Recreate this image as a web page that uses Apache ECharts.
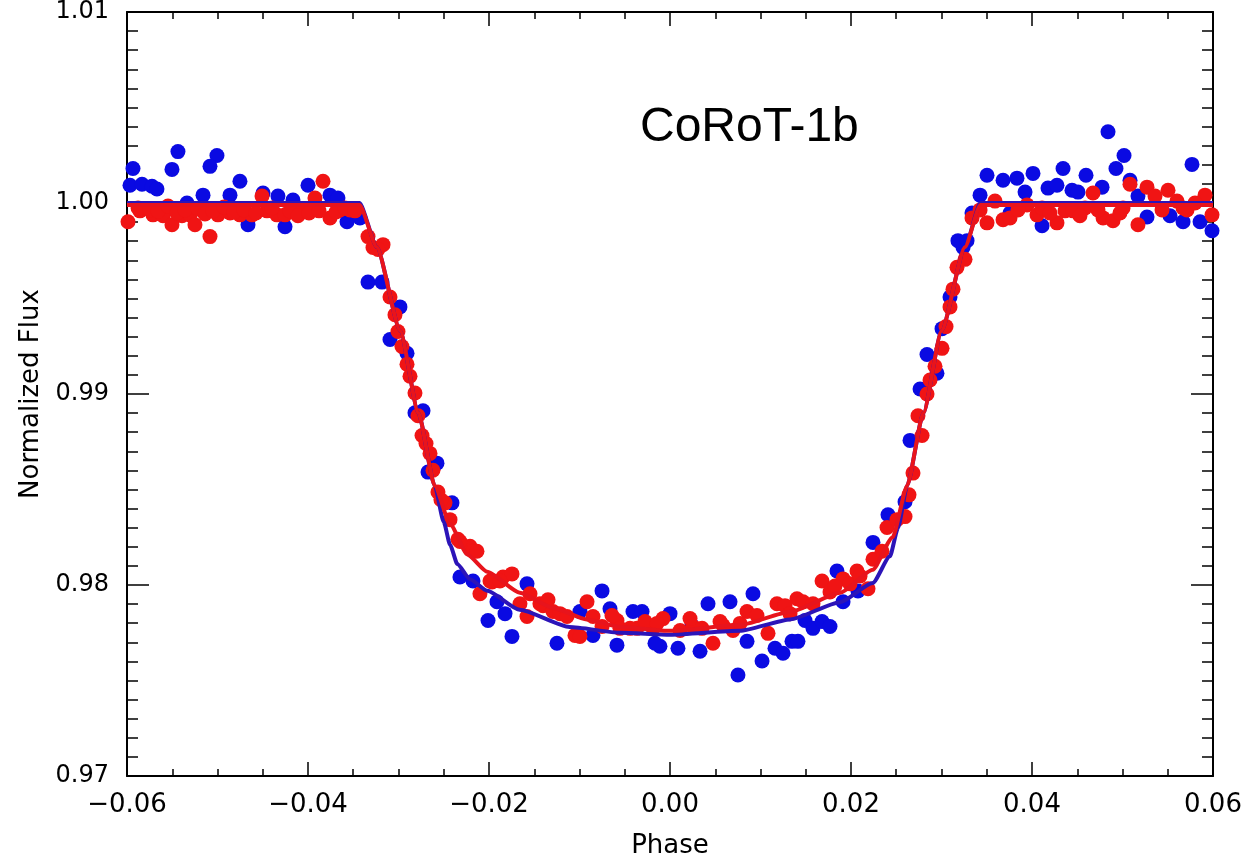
<!DOCTYPE html>
<html>
<head>
<meta charset="utf-8">
<script src="https://cdn.jsdelivr.net/npm/echarts@6/dist/echarts.min.js"></script>
<style>
html,body{margin:0;padding:0;background:#fff;}
#chart{width:1248px;height:864px;}
</style>
</head>
<body>
<div id="chart"></div>
<script>
// ---- Data (phase, normalized flux) ----
var bluePoints = [
[-0.05934,1.00181],[-0.05967,1.00093],[-0.05834,1.00098],[-0.05724,1.00088],[-0.05669,1.00073],
[-0.05437,1.00269],[-0.05503,1.00176],[-0.05006,1.00249],[-0.05083,1.00192],[-0.04752,1.00114],
[-0.04862,1.00041],[-0.05160,1.00041],[-0.05337,1.00000],[-0.04663,0.99886],[-0.04497,1.00052],
[-0.04332,1.00036],[-0.04254,0.99876],[-0.04000,1.00093],[-0.04166,1.00016],[-0.03757,1.00041],
[-0.03669,1.00026],[-0.03569,0.99902],[-0.03426,0.99922],[-0.03337,0.99586],[-0.03182,0.99586],
[-0.02984,0.99456],[-0.03094,0.99285],[-0.02906,0.99213],[-0.02818,0.98902],[-0.02729,0.98912],
[-0.02575,0.98638],[-0.02674,0.98591],[-0.02409,0.98430],[-0.02321,0.98042],[-0.02177,0.98021],
[-0.01580,0.98006],[-0.01912,0.97912],[-0.01823,0.97850],[-0.02011,0.97814],[-0.01746,0.97731],
[-0.00995,0.97861],[-0.00751,0.97969],[-0.00663,0.97876],[-0.00851,0.97736],[-0.01249,0.97695],
[-0.00409,0.97861],[-0.00309,0.97861],[-0.00586,0.97685],[-0.00111,0.97679],[0.00000,0.97850],
[-0.00166,0.97695],[0.00088,0.97669],[0.00332,0.97653],[0.00243,0.97788],[0.00420,0.97902],
[0.00663,0.97912],[0.00917,0.97954],[0.00851,0.97705],[0.00751,0.97529],[0.01017,0.97602],
[0.01160,0.97669],[0.01249,0.97643],[0.01348,0.97705],[0.01414,0.97705],[0.01492,0.97814],
[0.01580,0.97773],[0.01680,0.97809],[0.01768,0.97783],[0.01845,0.98073],[0.01912,0.97912],
[0.02077,0.97969],[0.02243,0.98223],[0.02409,0.98368],[0.02597,0.98436],[0.02652,0.98757],
[0.02763,0.99026],[0.02840,0.99207],[0.02950,0.99109],[0.03006,0.99342],[0.03094,0.99508],
[0.03238,0.99767],[0.03182,0.99803],[0.03282,0.99803],[0.03337,0.99948],[0.03426,1.00041],
[0.03503,1.00145],[0.03680,1.00119],[0.03834,1.00130],[0.03923,1.00057],[0.04011,1.00155],
[0.03757,0.99948],[0.04111,0.99881],[0.04177,1.00078],[0.04276,1.00093],[0.04343,1.00181],
[0.04442,1.00067],[0.04508,1.00057],[0.04597,1.00145],[0.04774,1.00083],[0.04840,1.00373],
[0.04928,1.00181],[0.05017,1.00249],[0.05083,1.00119],[0.05171,1.00036],[0.05271,0.99927],
[0.05525,0.99933],[0.05669,0.99902],[0.05768,1.00202],[0.05857,0.99902],[0.05989,0.99855]
];
var redPoints = [
[-0.05989,0.99902],[-0.05857,0.99959],[-0.05713,0.99938],[-0.05602,0.99933],[-0.05503,0.99886],
[-0.05392,0.99933],[-0.05304,0.99938],[-0.05249,0.99886],[-0.05160,0.99959],[-0.05083,0.99824],
[-0.04995,0.99938],[-0.04862,0.99948],[-0.04752,0.99938],[-0.04619,0.99938],[-0.04508,1.00036],
[-0.04453,0.99959],[-0.04343,0.99938],[-0.04254,0.99938],[-0.04144,0.99959],[-0.04055,0.99959],
[-0.03923,1.00026],[-0.03834,1.00114],[-0.03757,0.99922],[-0.03647,0.99964],[-0.03536,0.99964],
[-0.05878,0.99974],[-0.05746,0.99964],[-0.05657,0.99959],[-0.05547,0.99984],[-0.05448,0.99948],
[-0.05359,0.99964],[-0.05215,0.99969],[-0.05138,0.99943],[-0.05050,0.99959],[-0.04928,0.99979],
[-0.04818,0.99953],[-0.04707,0.99964],[-0.04575,0.99948],[-0.04398,0.99974],[-0.04199,0.99959],
[-0.04111,0.99933],[-0.03989,0.99948],[-0.03878,0.99959],[-0.03691,0.99953],[-0.03591,0.99974],
[-0.03481,0.99959],[-0.03337,0.99824],[-0.03282,0.99767],[-0.03171,0.99782],[-0.03227,0.99757],
[-0.03094,0.99508],[-0.03006,0.99327],[-0.02906,0.99156],[-0.02818,0.99005],[-0.02740,0.98783],
[-0.02652,0.98689],[-0.02564,0.98487],[-0.02486,0.98430],[-0.02343,0.98239],[-0.02210,0.98203],
[-0.02177,0.98177],[-0.02321,0.98228],[-0.02133,0.98177],[-0.03039,0.99415],[-0.02962,0.99249],
[-0.02873,0.99093],[-0.02785,0.98886],[-0.02696,0.98741],[-0.02619,0.98601],[-0.02531,0.98446],
[-0.02431,0.98342],[-0.01989,0.98021],[-0.01845,0.98042],[-0.01746,0.98058],[-0.02100,0.97954],
[-0.01967,0.98016],[-0.01879,0.98021],[-0.01658,0.97902],[-0.01580,0.97835],[-0.01403,0.97892],
[-0.01293,0.97861],[-0.01216,0.97850],[-0.01138,0.97835],[-0.00917,0.97912],[-0.00851,0.97835],
[-0.00751,0.97783],[-0.01050,0.97736],[-0.00995,0.97731],[-0.00586,0.97814],[-0.00553,0.97773],
[-0.00365,0.97773],[-0.00188,0.97773],[-0.00077,0.97824],[-0.01437,0.97902],[-0.00442,0.97773],
[0.00111,0.97762],[0.00254,0.97783],[0.00354,0.97773],[0.00475,0.97695],[0.00586,0.97788],
[0.00696,0.97762],[0.00851,0.97861],[0.00961,0.97840],[0.01083,0.97747],[0.01182,0.97902],
[0.01403,0.97928],[0.01470,0.97912],[0.01580,0.97902],[0.01680,0.98021],[0.01768,0.97964],
[0.01912,0.98032],[0.02066,0.98073],[0.02188,0.97980],[0.02243,0.98135],[0.02398,0.98301],
[0.02508,0.98342],[0.02343,0.98177],[-0.01547,0.97954],[-0.01348,0.97923],[-0.00641,0.97840],
[-0.00276,0.97809],[-0.00144,0.97799],[0.00221,0.97824],[0.00553,0.97809],[0.00774,0.97799],
[0.01271,0.97892],[0.01326,0.97850],[0.01823,0.97995],[0.01989,0.98006],[0.02100,0.98047],
[0.02597,0.98358],[0.02685,0.98586],[0.02740,0.98886],[0.02840,0.99000],[0.02928,0.99145],
[0.03006,0.99239],[0.03094,0.99456],[0.03171,0.99663],[0.03260,0.99705],[0.03337,0.99922],
[0.02641,0.98472],[0.02785,0.98783],[0.02873,0.99073],[0.03050,0.99353],[0.03127,0.99549],
[0.03503,0.99896],[0.03591,1.00010],[0.03680,0.99912],[0.03757,0.99922],[0.03945,0.99990],
[0.04055,0.99938],[0.04111,0.99974],[0.04276,0.99896],[0.04365,0.99959],[0.04453,0.99959],
[0.04586,0.99974],[0.04674,1.00052],[0.04785,0.99922],[0.04895,0.99907],[0.05083,1.00098],
[0.05171,0.99886],[0.05271,1.00083],[0.05359,1.00036],[0.05437,0.99964],[0.05503,1.00067],
[0.05602,1.00010],[0.05713,0.99964],[0.05912,1.00041],[0.05989,0.99938],[0.05006,0.99974],
[0.03426,0.99964],[0.03845,0.99964],[0.04199,0.99948],[0.04530,0.99933],[0.04729,0.99964],
[0.04972,0.99948],[0.05801,1.00000],[0.05669,0.99974]
];
var blueModel = [
[-0.06,1.0],[-0.0343,1.0],[-0.0324,0.9977],[-0.0298,0.9933],[-0.0278,0.9890],[-0.0260,0.9852],
[-0.0250,0.9833],[-0.0243,0.9821],[-0.0235,0.9811],[-0.0221,0.9803],[-0.0202,0.9797],[-0.0166,0.9787],
[-0.0111,0.9778],[-0.0055,0.9775],[0.0,0.9774],[0.0077,0.9776],[0.0133,0.9782],[0.0188,0.9791],
[0.0224,0.9801],[0.0243,0.9815],[0.0252,0.9830],[0.0262,0.9852],[0.0280,0.9890],[0.0300,0.9933],
[0.0326,0.9977],[0.0343,1.0],[0.06,1.0]
];
var redModel = [
[-0.06,0.9999],[-0.0343,0.9999],[-0.0324,0.9977],[-0.0298,0.9933],[-0.0278,0.9890],[-0.0260,0.9852],
[-0.0243,0.9832],[-0.0224,0.9816],[-0.0202,0.9807],[-0.0166,0.9796],[-0.0129,0.9788],[-0.0092,0.9782],
[-0.0055,0.9778],[0.0,0.9776],[0.0077,0.9779],[0.0133,0.9786],[0.0188,0.9796],[0.0224,0.9808],
[0.0246,0.9825],[0.0262,0.9852],[0.0280,0.9890],[0.0300,0.9933],[0.0326,0.9977],[0.0343,0.9999],[0.06,0.9999]
];
var xRange = [-0.06, 0.06], xStep = 0.02;
var yRange = [0.97, 1.01], yStep = 0.01;
var titleText = 'CoRoT-1b';
var xName = 'Phase', yName = 'Normalized Flux';

// ---- Chart ----
var chart = echarts.init(document.getElementById('chart'), null, {renderer: 'canvas'});
function fmt(v){ var s = Number(v).toFixed(2); return s.charAt(0) === '-' ? '\u2212' + s.slice(1) : s; }
var axisLine = {show: true, onZero: false, lineStyle: {color: '#000', width: 2}};
function xAx(pos, showLabel){
  return {
    type: 'value', position: pos, min: xRange[0], max: xRange[1], interval: xStep,
    axisLine: axisLine,
    axisTick: {show: true, inside: true, length: 14, lineStyle: {color: '#000', width: 1.5}},
    minorTick: {show: true, splitNumber: 4, length: 7, lineStyle: {color: '#000', width: 1.5}},
    splitLine: {show: false},
    axisLabel: {show: showLabel, margin: 16, formatter: fmt, color: '#000', fontFamily: 'DejaVu Sans', fontSize: 26},
    name: showLabel ? xName : '', nameLocation: 'middle', nameGap: 57,
    nameTextStyle: {color: '#000', fontFamily: 'DejaVu Sans', fontSize: 26}
  };
}
function yAx(pos, showLabel){
  return {
    type: 'value', position: pos, min: yRange[0], max: yRange[1], interval: yStep,
    axisLine: axisLine,
    axisTick: {show: true, inside: true, length: 22, lineStyle: {color: '#000', width: 1.5}},
    minorTick: {show: true, splitNumber: 10, length: 11, lineStyle: {color: '#000', width: 1.5}},
    splitLine: {show: false},
    axisLabel: {show: showLabel, margin: 18, formatter: fmt, color: '#000', fontFamily: 'DejaVu Sans', fontSize: 24},
    name: showLabel ? yName : '', nameLocation: 'middle', nameGap: 80, nameRotate: 90,
    nameTextStyle: {color: '#000', fontFamily: 'DejaVu Sans', fontSize: 26}
  };
}
chart.setOption({
  animation: false,
  backgroundColor: '#fff',
  grid: {left: 127, right: 35, top: 12, bottom: 80, containLabel: false},
  xAxis: [xAx('bottom', true), xAx('top', false)],
  yAxis: [yAx('left', true), yAx('right', false)],
  graphic: [{
    type: 'text', left: 640, top: 104,
    style: {text: titleText, fill: '#000', font: '48px "Liberation Sans", Arial, sans-serif'}
  }],
  series: [
    {type: 'scatter', data: bluePoints, symbol: 'circle', symbolSize: 15,
     itemStyle: {color: '#0a0ae2', opacity: 1}, z: 2},
    {type: 'scatter', data: redPoints, symbol: 'circle', symbolSize: 15,
     itemStyle: {color: '#f01414', opacity: 1}, z: 3},
    {type: 'line', data: blueModel, showSymbol: false, smooth: 0.2, smoothMonotone: 'x',
     lineStyle: {color: '#2c14b8', width: 4}, z: 4},
    {type: 'line', data: redModel, showSymbol: false, smooth: 0.2, smoothMonotone: 'x',
     lineStyle: {color: '#e8141c', width: 4}, z: 5}
  ]
});
</script>
</body>
</html>
